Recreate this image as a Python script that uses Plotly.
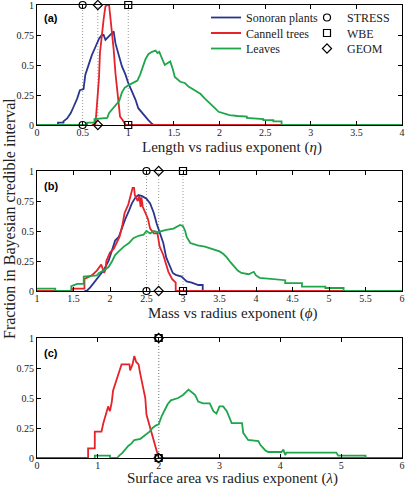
import plotly.graph_objects as go

# ---------------- Data ----------------
# Panel (a): Length vs radius exponent (eta)
a_sonoran_x = [0.23, 0.23, 0.29, 0.29, 0.33, 0.37, 0.40, 0.44, 0.47, 0.50, 0.51, 0.53, 0.57, 0.60, 0.64, 0.68, 0.71, 0.73,
               0.75, 0.79, 0.82, 0.84, 0.86, 0.90, 0.93, 0.97, 1.00, 1.04, 1.08, 1.11, 1.17, 1.22, 1.26, 1.28]
a_sonoran_y = [0.0, 0.02, 0.02, 0.03, 0.055, 0.10, 0.15, 0.22, 0.29, 0.30, 0.30, 0.42, 0.51, 0.58, 0.65, 0.72, 0.75, 0.75,
               0.71, 0.74, 0.76, 0.78, 0.68, 0.57, 0.49, 0.42, 0.35, 0.28, 0.21, 0.14, 0.08, 0.04, 0.01, 0.0]
a_cannell_x = [0.60, 0.64, 0.66, 0.68, 0.69, 0.71, 0.73, 0.75, 0.77, 0.79, 0.80, 0.82, 0.84, 0.86, 0.88, 0.90, 0.91,
               0.94, 0.97, 2.68]
a_cannell_y = [0.0, 0.0, 0.20, 0.40, 0.60, 0.76, 0.88, 0.99, 1.0, 1.0, 0.93, 0.82, 0.63, 0.43, 0.29, 0.15, 0.07,
               0.04, 0.0, 0.0]
a_leaves_x = [0, 0.55, 0.55, 0.63, 0.63, 0.77, 0.79, 0.82, 0.86, 0.90, 0.93, 0.96, 1.0, 1.06, 1.1, 1.13, 1.16, 1.19,
              1.22, 1.26, 1.3, 1.32, 1.34, 1.37, 1.40, 1.42, 1.46, 1.49, 1.51, 1.57, 1.62, 1.66, 1.73, 1.79, 1.84,
              1.9, 1.95, 1.99, 2.04, 2.11, 2.2, 2.3, 2.3, 2.48, 2.48, 2.59, 2.59, 2.68, 2.68, 4.0]
a_leaves_y = [0, 0, 0.02, 0.02, 0.05, 0.06, 0.10, 0.13, 0.17, 0.20, 0.27, 0.31, 0.33, 0.35, 0.37, 0.42, 0.48, 0.55,
              0.59, 0.61, 0.62, 0.60, 0.61, 0.56, 0.50, 0.51, 0.53, 0.46, 0.40, 0.36, 0.35, 0.32, 0.29, 0.26, 0.22,
              0.18, 0.14, 0.11, 0.098, 0.083, 0.075, 0.07, 0.06, 0.05, 0.04, 0.04, 0.03, 0.03, 0, 0]

# Panel (b): Mass vs radius exponent (phi)
b_sonoran_x = [1.65, 1.68, 1.73, 1.82, 1.91, 1.98, 2.03, 2.07, 2.12, 2.16, 2.21, 2.26, 2.30, 2.35, 2.39, 2.44, 2.50,
               2.55, 2.60, 2.64, 2.69, 2.73, 2.77, 2.82, 2.86, 2.90, 2.98, 3.05, 3.12, 3.21, 3.27, 3.27]
b_sonoran_y = [0.0, 0.0, 0.03, 0.10, 0.17, 0.25, 0.35, 0.42, 0.45, 0.52, 0.60, 0.67, 0.73, 0.78, 0.80, 0.79, 0.77,
               0.73, 0.65, 0.56, 0.47, 0.40, 0.28, 0.20, 0.15, 0.135, 0.12, 0.08, 0.07, 0.05, 0.05, 0.0]
b_cannell_x = [1, 1.48, 1.48, 1.65, 1.65, 1.75, 1.82, 1.88, 1.92, 1.94, 1.95, 2.0, 2.05, 2.13, 2.17, 2.2, 2.25, 2.28,
               2.31, 2.33, 2.34, 2.38, 2.40, 2.42, 2.43, 2.45, 2.48, 2.52, 2.55, 2.6, 2.65, 2.68, 2.73, 2.77, 2.8,
               2.85, 2.9, 2.9, 5.2]
b_cannell_y = [0, 0, 0.02, 0.02, 0.10, 0.13, 0.17, 0.22, 0.15, 0.18, 0.25, 0.32, 0.35, 0.45, 0.55, 0.65, 0.72, 0.78,
               0.86, 0.86, 0.80, 0.75, 0.79, 0.70, 0.78, 0.70, 0.65, 0.60, 0.52, 0.48, 0.48, 0.37, 0.30, 0.22, 0.16,
               0.10, 0.07, 0.0, 0.0]
b_leaves_x = [1, 1.25, 1.25, 1.47, 1.47, 1.55, 1.64, 1.64, 1.82, 1.85, 1.91, 1.98, 2.03, 2.07, 2.12, 2.19, 2.26, 2.32,
              2.39, 2.46, 2.5, 2.55, 2.6, 2.65, 2.77, 2.87, 2.96, 3.0, 3.03, 3.05, 3.1, 3.2, 3.3, 3.4, 3.5, 3.55,
              3.6, 3.65, 3.7, 3.75, 3.8, 3.9, 3.97, 4.0, 4.05, 4.2, 4.4, 4.4, 4.63, 4.63, 4.95, 4.95, 5.2, 5.2, 6]
b_leaves_y = [0.02, 0.02, 0, 0, 0.04, 0.06, 0.06, 0.12, 0.13, 0.15, 0.17, 0.20, 0.25, 0.30, 0.33, 0.37, 0.40, 0.44,
              0.46, 0.47, 0.50, 0.48, 0.50, 0.49, 0.51, 0.52, 0.55, 0.54, 0.50, 0.45, 0.40, 0.38, 0.37, 0.35, 0.33,
              0.31, 0.28, 0.24, 0.20, 0.17, 0.15, 0.14, 0.16, 0.13, 0.11, 0.10, 0.09, 0.065, 0.065, 0.037, 0.037,
              0.025, 0.025, 0, 0]

# Panel (c): Surface area vs radius exponent (lambda)
c_cannell_x = [0, 0.84, 0.84, 0.95, 0.95, 1.06, 1.09, 1.13, 1.17, 1.19, 1.2, 1.23, 1.25, 1.3, 1.34, 1.39, 1.52, 1.53,
               1.57, 1.6, 1.63, 1.67, 1.69, 1.73, 1.78, 1.8, 1.86, 1.9, 1.94, 1.98, 2.0, 6]
c_cannell_y = [0, 0, 0.08, 0.08, 0.22, 0.22, 0.29, 0.36, 0.43, 0.40, 0.39, 0.47, 0.56, 0.64, 0.70, 0.78, 0.78, 0.73,
               0.78, 0.85, 0.80, 0.78, 0.72, 0.62, 0.50, 0.36, 0.25, 0.19, 0.11, 0.05, 0, 0]
c_leaves_x = [0.95, 0.95, 1.2, 1.2, 1.32, 1.35, 1.4, 1.45, 1.5, 1.55, 1.6, 1.7, 1.8, 1.85, 1.9, 1.95, 2.0, 2.05, 2.1,
              2.15, 2.2, 2.32, 2.4, 2.45, 2.49, 2.54, 2.6, 2.65, 2.73, 2.84, 2.9, 2.95, 3.0, 3.06, 3.12, 3.2, 3.37,
              3.39, 3.47, 3.64, 3.67, 3.75, 3.8, 4.02, 4.05, 4.08, 4.1, 4.92, 4.95, 5.4, 5.4]
c_leaves_y = [0, 0.02, 0.02, 0, 0, 0.02, 0.04, 0.07, 0.10, 0.12, 0.15, 0.16, 0.20, 0.22, 0.25, 0.27, 0.28, 0.35, 0.40,
              0.45, 0.48, 0.50, 0.525, 0.55, 0.57, 0.55, 0.525, 0.47, 0.455, 0.455, 0.39, 0.37, 0.43, 0.43, 0.39,
              0.29, 0.29, 0.21, 0.15, 0.14, 0.11, 0.065, 0.05, 0.05, 0.07, 0.025, 0.045, 0.045, 0.02, 0.02, 0]

# Theoretical predictions
models = ["STRESS", "WBE", "GEOM"]
eta_pred = [0.5, 1.0, 2 / 3]
phi_pred = [2.5, 3.0, 8 / 3]
lam_pred = [2.0, 2.0, 2.0]

x_titles = ["Length vs radius exponent (<i>η</i>)",
            "Mass vs radius exponent (<i>ϕ</i>)",
            "Surface area vs radius exponent (<i>λ</i>)"]
panel_labels = ["(a)", "(b)", "(c)"]
y_ticks = [0, 0.25, 0.5, 0.75, 1]
y_ticktext = ["0", "0.25", "0.5", "0.75", "1"]

# ---------------- Style ----------------
COL = {"Sonoran plants": "#2a3590", "Cannell trees": "#e4232b", "Leaves": "#1ea64b"}
SYM = {"STRESS": "circle-open", "WBE": "square-open", "GEOM": "diamond-open"}
SERIF = "Liberation Serif"

W, H = 405, 487
ML, MR, MT, MB = 37, 3, 5, 29
PH = H - MT - MB


def ydom(top_px, bot_px):
    return [(H - MB - bot_px) / PH, (H - MB - top_px) / PH]


domains = [ydom(5, 125), ydom(171, 291), ydom(338, 458)]

fig = go.Figure()

panels = [
    [("Sonoran plants", a_sonoran_x, a_sonoran_y), ("Cannell trees", a_cannell_x, a_cannell_y),
     ("Leaves", a_leaves_x, a_leaves_y)],
    [("Sonoran plants", b_sonoran_x, b_sonoran_y), ("Cannell trees", b_cannell_x, b_cannell_y),
     ("Leaves", b_leaves_x, b_leaves_y)],
    [("Cannell trees", c_cannell_x, c_cannell_y), ("Leaves", c_leaves_x, c_leaves_y)],
]
preds = [eta_pred, phi_pred, lam_pred]

line_legend = {"Sonoran plants": "legend", "Cannell trees": "legend2", "Leaves": "legend3"}
mark_legend = {"STRESS": "legend4", "WBE": "legend5", "GEOM": "legend6"}

for i in range(3):
    xa = "x" if i == 0 else f"x{i + 1}"
    ya = "y" if i == 0 else f"y{i + 1}"
    for m, p in zip(models, preds[i]):
        fig.add_trace(go.Scatter(x=[p, p], y=[0, 1], mode="lines", xaxis=xa, yaxis=ya,
                                 line=dict(color="#9a9a9a", width=1, dash="1px,2px"),
                                 showlegend=False, hoverinfo="skip"))
    for name, xs, ys in panels[i]:
        fig.add_trace(go.Scatter(x=xs, y=ys, mode="lines", name=name, xaxis=xa, yaxis=ya,
                                 line=dict(color=COL[name], width=1.8),
                                 legendgroup=name, legend=line_legend[name],
                                 showlegend=(i == 0)))
    for m, p in zip(models, preds[i]):
        fig.add_trace(go.Scatter(x=[p, p], y=[0, 1], mode="markers", name=m, xaxis=xa, yaxis=ya,
                                 marker=dict(symbol=SYM[m], size=7, color="black",
                                             line=dict(width=1.2, color="black")),
                                 cliponaxis=False, legendgroup=m, legend=mark_legend[m],
                                 showlegend=(i == 0)))

axis_common = dict(showline=True, linecolor="black", linewidth=1, mirror="allticks", ticks="inside",
                   ticklen=4, tickcolor="black", showgrid=False, zeroline=False, automargin=False,
                   ticklabeloverflow="allow",
                   tickfont=dict(family=SERIF, size=10, color="#222"))

layout = dict(template="none", width=W, height=H, margin=dict(l=ML, r=MR, t=MT, b=MB, autoexpand=False),
              plot_bgcolor="white", paper_bgcolor="white",
              font=dict(family=SERIF, size=12, color="black"))

x_ranges = [[0, 4], [1, 6], [0, 6]]
x_dticks = [0.5, 0.5, 1]
for i in range(3):
    sx = "xaxis" if i == 0 else f"xaxis{i + 1}"
    sy = "yaxis" if i == 0 else f"yaxis{i + 1}"
    layout[sx] = dict(axis_common, range=x_ranges[i], dtick=x_dticks[i], tick0=0, ticklabelstandoff=-2,
                      anchor="y" if i == 0 else f"y{i + 1}", domain=[0, 1])
    layout[sy] = dict(axis_common, range=[0, 1], tickvals=y_ticks, ticktext=y_ticktext,
                      anchor="x" if i == 0 else f"x{i + 1}", domain=domains[i])


def py(px):
    return (H - MB - px) / PH


def pxx(px):
    return (px - ML) / (W - ML - MR)


rows_px = [16, 31.5, 47]
leg_font = dict(family=SERIF, size=12, color="#222")
for k, (name, lg) in enumerate(line_legend.items()):
    layout[lg] = dict(x=pxx(206), y=py(rows_px[k] - 13), xanchor="left", yanchor="top",
                      bgcolor="rgba(0,0,0,0)", font=leg_font, borderwidth=0)
for k, (name, lg) in enumerate(mark_legend.items()):
    layout[lg] = dict(x=pxx(307), y=py(rows_px[k] - 13), xanchor="left", yanchor="top",
                      bgcolor="rgba(0,0,0,0)", font=leg_font, borderwidth=0)

fig.update_layout(**layout)

annotations = []
title_y_px = [148, 314, 478]
label_y_px = [18, 186, 353]
for i in range(3):
    annotations.append(dict(text=x_titles[i], x=pxx(232), y=py(title_y_px[i]), xref="paper", yref="paper",
                            xanchor="center", yanchor="middle", showarrow=False,
                            font=dict(family=SERIF, size=15, color="#222")))
    annotations.append(dict(text="<b>" + panel_labels[i] + "</b>", x=pxx(51), y=py(label_y_px[i]),
                            xref="paper", yref="paper", xanchor="center", yanchor="middle", showarrow=False,
                            font=dict(family="Liberation Sans", size=11, color="black")))
annotations.append(dict(text="Fraction in Bayesian credible interval", x=pxx(10), y=py(219),
                        xref="paper", yref="paper", xanchor="center", yanchor="middle", textangle=-90,
                        showarrow=False, font=dict(family=SERIF, size=16, color="#222")))
fig.update_layout(annotations=annotations)

fig.write_html("out.html", config={"displayModeBar": False},
               post_script="document.body.style.margin='0';document.body.style.overflow='hidden';")
